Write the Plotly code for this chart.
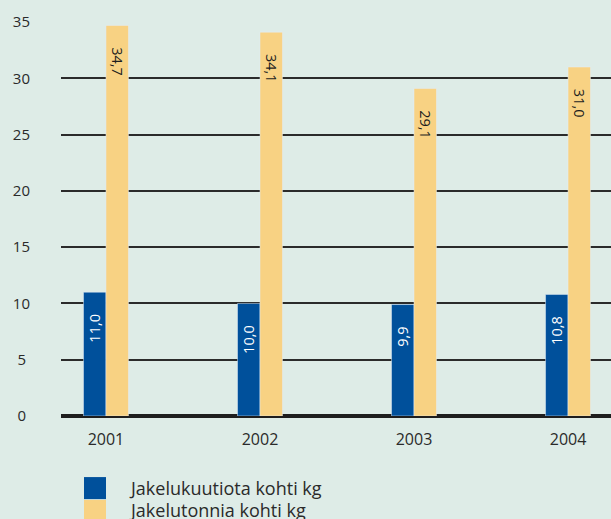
import plotly.graph_objects as go

years = ["2001", "2002", "2003", "2004"]
per_cubic = [11.0, 10.0, 9.9, 10.8]
per_tonne = [34.7, 34.1, 29.1, 31.0]
series_names = ["Jakelukuutiota kohti kg", "Jakelutonnia kohti kg"]
y_ticks = [0, 5, 10, 15, 20, 25, 30, 35]
y_tick_labels = ["0\u00a0", "5\u00a0", "10", "15", "20", "25", "30", "35"]

BLUE = "#00509b"
YELLOW = "#f8d283"
BG = "#deece7"
TXT = "#2a2a2a"
FONT = "Open Sans"
pad = "\u00a0" * 5

fig = go.Figure()
fig.add_trace(go.Bar(
    x=years, y=per_cubic, name=series_names[0], marker_color=BLUE,
    texttemplate="%{y:.1f}" + pad, textposition="inside", insidetextanchor="end",
    textangle=-90, textfont=dict(color="white", size=14.5, family=FONT),
    showlegend=False,
))
fig.add_trace(go.Bar(
    x=years, y=per_tonne, name=series_names[1], marker_color=YELLOW,
    texttemplate=pad + "%{y:.1f}", textposition="inside", insidetextanchor="end",
    textangle=90, textfont=dict(color="#1e1e1e", size=14.5, family=FONT),
    showlegend=False,
))

# legend drawn as squares + labels
leg_colors = [BLUE, YELLOW]
leg_y = [(-0.155, -0.211), (-0.213, -0.27)]
leg_text_y = [-0.183, -0.239]
for (y0, y1), ty, c, name in zip(leg_y, leg_text_y, leg_colors, series_names):
    fig.add_shape(type="rect", xref="paper", yref="paper", x0=0.0418, x1=0.0818,
                  y0=y1, y1=y0, fillcolor=c, line_width=0, layer="above")
    fig.add_annotation(xref="paper", yref="paper", x=0.1205, y=ty,
                       text=name, showarrow=False, xanchor="left", yanchor="middle",
                       font=dict(size=18, color=TXT, family=FONT))

fig.update_layout(
    width=611, height=519,
    margin=dict(l=61, r=0, t=22, b=103),
    paper_bgcolor=BG, plot_bgcolor=BG,
    barmode="group", bargap=0.708, bargroupgap=0,
    separators=", ",
    font=dict(family=FONT, color=TXT, size=16),
    uniformtext=dict(minsize=14, mode="show"),
)
fig.update_xaxes(
    type="category", range=[-0.292, 3.279], showgrid=False, showline=False,
    ticks="", ticklabelstandoff=12, tickfont=dict(size=16, color=TXT),
)
fig.update_yaxes(
    range=[0, 35], tickvals=y_ticks, ticktext=y_tick_labels,
    showgrid=True, gridcolor="#2b2b2b", gridwidth=2,
    zeroline=True, zerolinecolor="#1e1e1e", zerolinewidth=4, showline=False,
    ticks="", ticklabelstandoff=30, tickfont=dict(size=15, color=TXT),
)

fig.write_html(
    "out.html",
    config={"displayModeBar": False},
    post_script="document.body.style.margin='0';document.body.style.padding='0';",
)
